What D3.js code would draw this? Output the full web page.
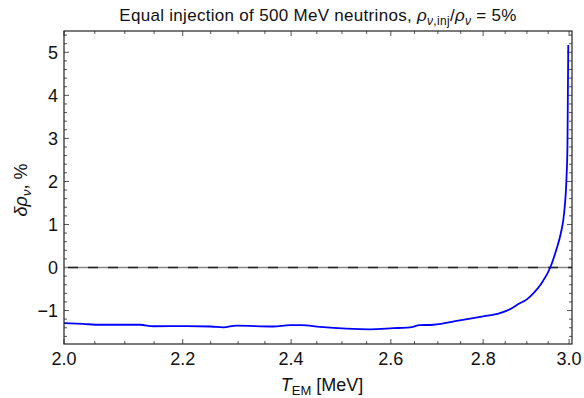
<!DOCTYPE html>
<html>
<head>
<meta charset="utf-8">
<script src="https://cdn.jsdelivr.net/npm/d3@7"></script>
<style>
  body { margin: 0; background: #fff; }
  svg { display: block; font-family: "Liberation Sans", Arial, sans-serif; }
</style>
</head>
<body>
<svg id="chart"></svg>
<script>
// T_EM [MeV] and delta rho_nu [%]
const temp = [2.000, 2.030, 2.059, 2.126, 2.149, 2.207, 2.250, 2.273, 2.297, 2.366,
  2.398, 2.420, 2.456, 2.509, 2.557, 2.605, 2.640, 2.661, 2.690, 2.748,
  2.797, 2.838, 2.868, 2.880, 2.900, 2.915, 2.934, 2.955, 2.969, 2.980,
  2.988, 2.9935, 2.996, 2.997, 2.998];
const deltaRho = [-1.29, -1.31, -1.33, -1.33, -1.365, -1.36, -1.37, -1.39, -1.35, -1.37,
  -1.34, -1.34, -1.38, -1.42, -1.435, -1.41, -1.39, -1.34, -1.33, -1.23,
  -1.14, -1.06, -0.93, -0.85, -0.74, -0.60, -0.37, 0.0, 0.40, 0.79,
  1.26, 2.03, 2.80, 3.97, 5.17];
const xMajor = [2.0, 2.2, 2.4, 2.6, 2.8, 3.0];
const xMinor = [2.05, 2.1, 2.15, 2.25, 2.3, 2.35, 2.45, 2.5, 2.55, 2.65, 2.7, 2.75, 2.85, 2.9, 2.95];
const yMajor = [-1, 0, 1, 2, 3, 4, 5];
const refLine = [0];

const width = 584, height = 398;
const margin = { top: 31, right: 12, bottom: 54, left: 64 };
const innerWidth = width - margin.left - margin.right;
const innerHeight = height - margin.top - margin.bottom;

const svg = d3.select('#chart')
  .attr('width', width)
  .attr('height', height);

const g = svg.append('g')
  .attr('transform', `translate(${margin.left},${margin.top})`);

// x axis is logarithmic in T
const xScale = d3.scaleLog()
  .domain([2, 3.007])
  .range([0, innerWidth]);

const yScale = d3.scaleLinear()
  .domain([-1.777, 5.495])
  .range([innerHeight, 0]);

const yMinor = d3.range(-1.6, 5.5, 0.2)
  .map(v => +v.toFixed(1))
  .filter(v => !yMajor.includes(v));

const tickColor = '#555';
const fmtY = d => d < 0 ? '\u2212' + Math.abs(d) : String(d);

// frame ticks, pointing inward on all four sides
function xTicks(values, len, y0, dir) {
  g.append('g').selectAll('line')
    .data(values)
    .enter()
    .append('line')
    .attr('x1', d => xScale(d))
    .attr('x2', d => xScale(d))
    .attr('y1', y0)
    .attr('y2', y0 + dir * len)
    .attr('stroke', tickColor)
    .attr('stroke-width', 1);
}
function yTicks(values, len, x0, dir) {
  g.append('g').selectAll('line')
    .data(values)
    .enter()
    .append('line')
    .attr('y1', d => yScale(d))
    .attr('y2', d => yScale(d))
    .attr('x1', x0)
    .attr('x2', x0 + dir * len)
    .attr('stroke', tickColor)
    .attr('stroke-width', 1);
}
xTicks(xMajor, 5, innerHeight, -1);
xTicks(xMinor, 3, innerHeight, -1);
xTicks(xMajor, 5, 0, 1);
xTicks(xMinor, 3, 0, 1);
yTicks(yMajor, 5, 0, 1);
yTicks(yMinor, 3, 0, 1);
yTicks(yMajor, 5, innerWidth, -1);
yTicks(yMinor, 3, innerWidth, -1);

// zero reference line
refLine.forEach(v => {
  g.append('line')
    .attr('x1', 0).attr('x2', innerWidth)
    .attr('y1', yScale(v)).attr('y2', yScale(v))
    .attr('stroke', '#888')
    .attr('stroke-width', 1.6);
  g.append('line')
    .attr('x1', 0).attr('x2', innerWidth)
    .attr('y1', yScale(v)).attr('y2', yScale(v))
    .attr('stroke', '#222')
    .attr('stroke-width', 1.6)
    .attr('stroke-dasharray', '10,10')
    .attr('stroke-dashoffset', -4);
});

// curve
const points = temp.map((t, i) => ({ t, v: deltaRho[i] }));
const line = d3.line()
  .x(d => xScale(d.t))
  .y(d => yScale(d.v))
  .curve(d3.curveMonotoneX);

g.append('path')
  .datum(points)
  .attr('fill', 'none')
  .attr('stroke', '#0000ff')
  .attr('stroke-width', 1.8)
  .attr('stroke-linejoin', 'round')
  .attr('d', line);

// frame
g.append('rect')
  .attr('x', 0).attr('y', 0)
  .attr('width', innerWidth).attr('height', innerHeight)
  .attr('fill', 'none')
  .attr('stroke', '#222')
  .attr('stroke-width', 1.2);

// tick labels
g.append('g').selectAll('text')
  .data(xMajor)
  .enter()
  .append('text')
  .attr('x', d => xScale(d))
  .attr('y', innerHeight + 21)
  .attr('text-anchor', 'middle')
  .style('font-size', '18px')
  .attr('fill', '#111')
  .text(d => d.toFixed(1));

g.append('g').selectAll('text')
  .data(yMajor)
  .enter()
  .append('text')
  .attr('x', -6)
  .attr('y', d => yScale(d))
  .attr('dy', '0.35em')
  .attr('text-anchor', 'end')
  .style('font-size', '18px')
  .attr('fill', '#111')
  .text(fmtY);

// title
const title = svg.append('text')
  .attr('x', 318)
  .attr('y', 21)
  .attr('text-anchor', 'middle')
  .style('font-size', '17px')
  .style('letter-spacing', '0.3px')
  .attr('fill', '#111');
title.append('tspan').text('Equal injection of 500 MeV neutrinos, ');
title.append('tspan').style('font-style', 'italic').text('\u03c1');
title.append('tspan').attr('dy', 4).style('font-size', '12px').style('font-style', 'italic').text('\u03bd');
title.append('tspan').style('font-size', '12px').text(',inj');
title.append('tspan').attr('dy', -4).text('/');
title.append('tspan').style('font-style', 'italic').text('\u03c1');
title.append('tspan').attr('dy', 4).style('font-size', '12px').style('font-style', 'italic').text('\u03bd');
title.append('tspan').attr('dy', -4).text(' = 5%');

// x label
const xLabel = svg.append('text')
  .attr('x', 322)
  .attr('y', 391)
  .attr('text-anchor', 'middle')
  .style('font-size', '18px')
  .attr('fill', '#111');
xLabel.append('tspan').style('font-style', 'italic').text('T');
xLabel.append('tspan').attr('dy', 4).style('font-size', '13px').text('EM');
xLabel.append('tspan').attr('dy', -4).text(' [MeV]');

// y label
const yLabel = svg.append('text')
  .attr('transform', 'rotate(-90)')
  .attr('x', -190)
  .attr('y', 27)
  .attr('text-anchor', 'middle')
  .style('font-size', '18px')
  .attr('fill', '#111');
yLabel.append('tspan').style('font-style', 'italic').text('\u03b4\u03c1');
yLabel.append('tspan').attr('dy', 4).style('font-size', '13px').style('font-style', 'italic').text('\u03bd');
yLabel.append('tspan').attr('dy', -4).text(', %');
</script>
</body>
</html>
